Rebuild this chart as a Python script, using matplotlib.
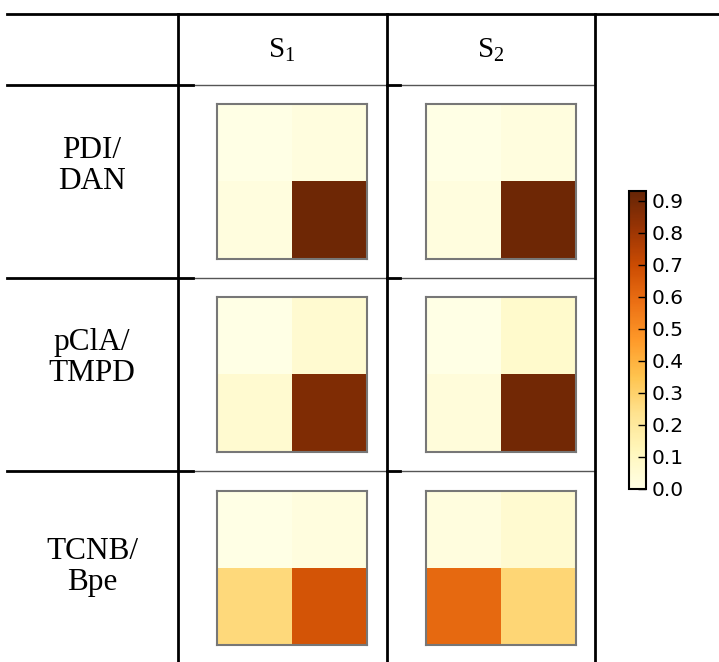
import numpy as np
import matplotlib
matplotlib.use('Agg')
import matplotlib.pyplot as plt
from matplotlib.lines import Line2D
from matplotlib.cm import ScalarMappable
from matplotlib.colors import Normalize

# table content
systems = ['PDI/\nDAN', 'pClA/\nTMPD', 'TCNB/\nBpe']
states = ['S$_{\\mathrm{1}}$', 'S$_{\\mathrm{2}}$']

# 2x2 maps, one per (system, state)
pdi_s1 = [[0.00, 0.02], [0.02, 0.91]]
pdi_s2 = [[0.00, 0.02], [0.02, 0.91]]
pcla_s1 = [[0.00, 0.06], [0.06, 0.87]]
pcla_s2 = [[0.00, 0.07], [0.03, 0.90]]
tcnb_s1 = [[0.00, 0.02], [0.27, 0.67]]
tcnb_s2 = [[0.02, 0.06], [0.60, 0.28]]
maps = [[pdi_s1, pdi_s2], [pcla_s1, pcla_s2], [tcnb_s1, tcnb_s2]]

cbar_ticks = [0.0, 0.1, 0.2, 0.3, 0.4, 0.5, 0.6, 0.7, 0.8, 0.9]
vmin, vmax = 0.0, 0.93

plt.rcParams['mathtext.fontset'] = 'custom'
plt.rcParams['mathtext.rm'] = 'Liberation Serif'

W, H = 719, 662
fig = plt.figure(figsize=(W / 100, H / 100), dpi=100)


def rect(x0, y0, x1, y1):
    return [x0 / W, 1 - y1 / H, (x1 - x0) / W, (y1 - y0) / H]


def hline(y, x0, x1, color='black', lw=2.0):
    fig.add_artist(Line2D([x0 / W, x1 / W], [1 - y / H, 1 - y / H],
                          color=color, lw=lw, transform=fig.transFigure))


def vline(x, y0, y1):
    fig.add_artist(Line2D([x / W, x / W], [1 - y0 / H, 1 - y1 / H],
                          color='black', lw=2.0, transform=fig.transFigure))


# table grid
hline(14, 7, 719)
for y in (85, 278, 471):
    hline(y, 178, 595, color='#555555', lw=1.0)
    hline(y, 7, 193)
    hline(y, 387, 400)
for x in (178, 387, 595):
    vline(x, 14, 662)

serif = 'Liberation Serif'
col_x = [282, 491]
for x, s in zip(col_x, states):
    fig.text(x / W, 1 - 50 / H, s, family=serif, fontsize=21,
             ha='center', va='center')

row_y = [166, 358, 567]
for y, s in zip(row_y, systems):
    fig.text(92 / W, 1 - y / H, s, family=serif, fontsize=22.5,
             ha='center', va='center', linespacing=1.12)

box_x = [(217, 367), (426, 576)]
box_y = [(104, 259), (297, 452), (491, 645)]
cmap = plt.get_cmap('YlOrBr')
for i, (y0, y1) in enumerate(box_y):
    for j, (x0, x1) in enumerate(box_x):
        ax = fig.add_axes(rect(x0, y0, x1, y1))
        ax.imshow(np.array(maps[i][j]), cmap=cmap, vmin=vmin, vmax=vmax,
                  aspect='auto', interpolation='nearest')
        ax.set_xticks([])
        ax.set_yticks([])
        for sp in ax.spines.values():
            sp.set_color('#777777')
            sp.set_linewidth(1.5)

cax = fig.add_axes(rect(629, 191, 646, 489))
sm = ScalarMappable(norm=Normalize(vmin=vmin, vmax=vmax), cmap=cmap)
cb = fig.colorbar(sm, cax=cax, ticks=cbar_ticks)
cb.outline.set_linewidth(1.5)
cb.ax.tick_params(direction='in', length=6, width=1, labelsize=14.5, pad=4)
cb.ax.set_yticklabels(['{:.1f}'.format(t) for t in cbar_ticks])

fig.savefig('out.png', dpi=100)
